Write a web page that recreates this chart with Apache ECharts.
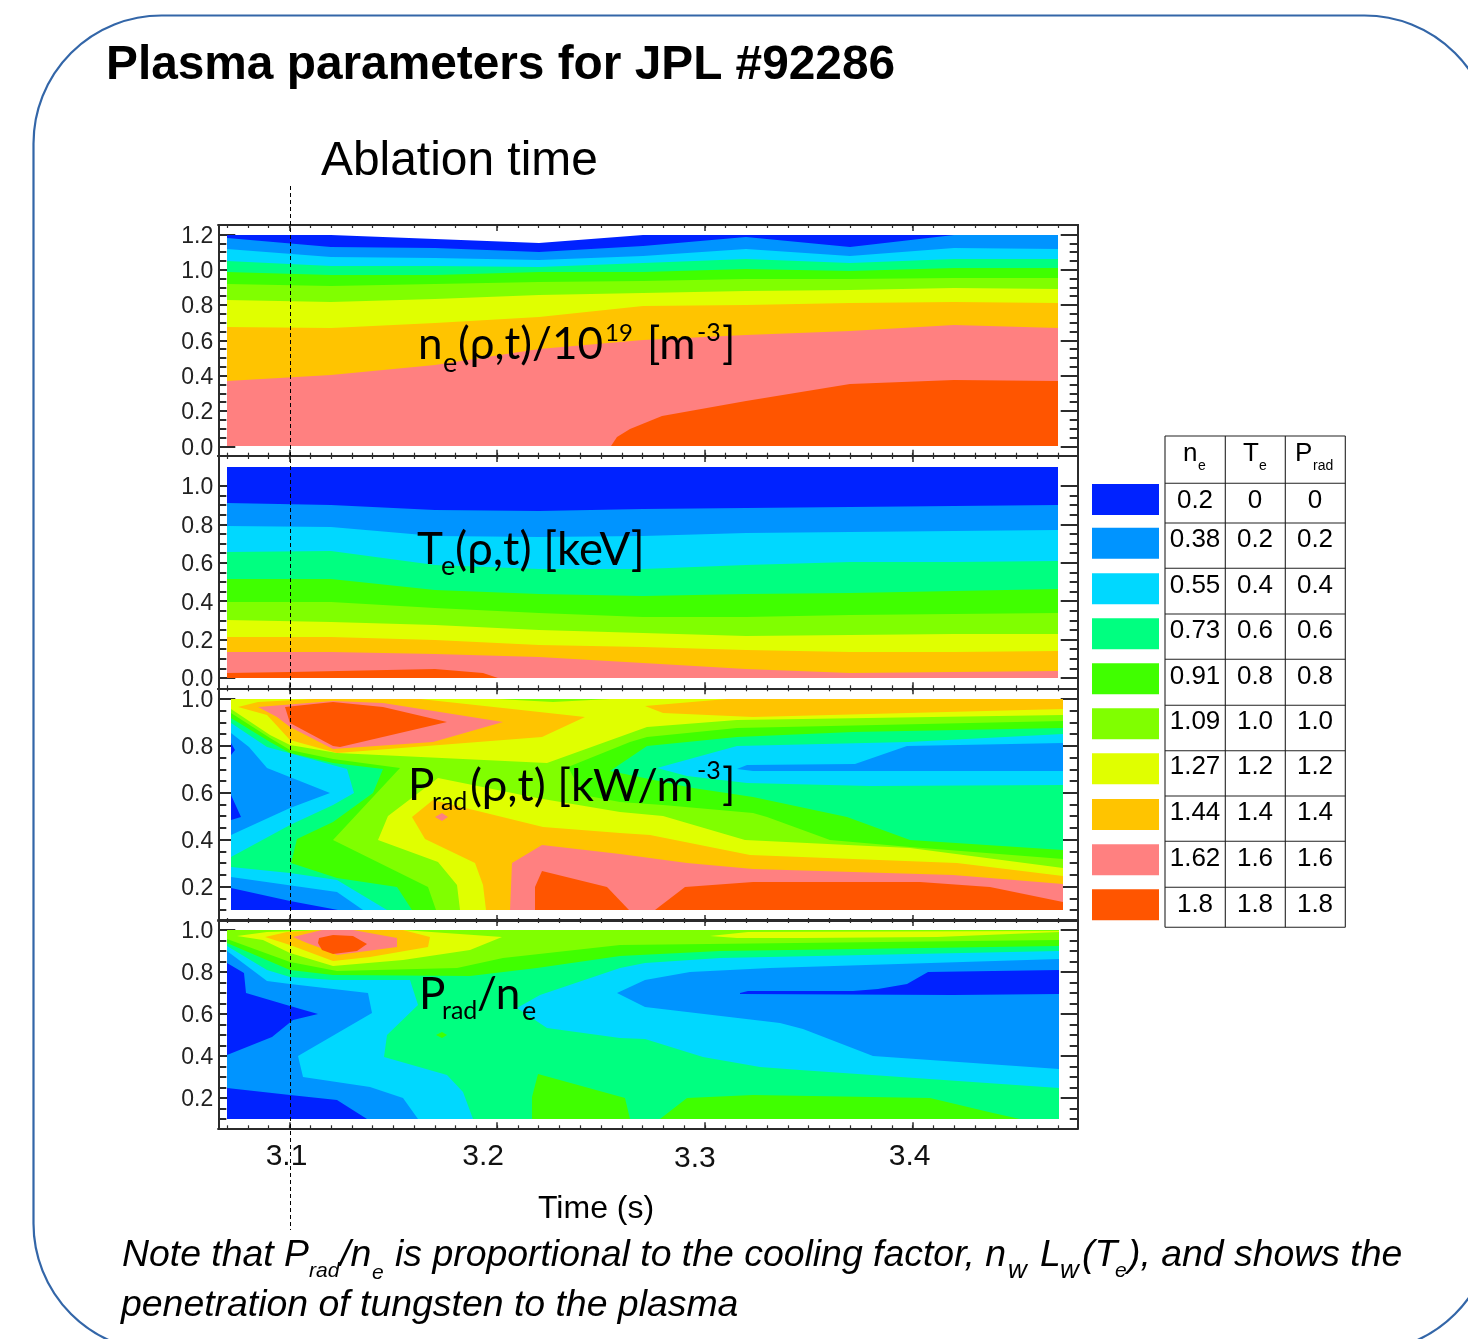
<!DOCTYPE html>
<html><head><meta charset="utf-8">
<script src="https://cdn.jsdelivr.net/npm/echarts@6/dist/echarts.min.js"></script>
<style>html,body{margin:0;padding:0;background:#fff}#c{width:1468px;height:1339px}</style></head>
<body><div id="c"></div>
<script>
// ---------- level colours and table values ----------
const levelColors = ['#0022ff','#0094ff','#00d8ff','#00ff80','#40ff00','#80ff00','#e0ff00','#ffc400','#ff8080','#ff5500'];
const neLevels = ['0.2','0.38','0.55','0.73','0.91','1.09','1.27','1.44','1.62','1.8'];
const teLevels = ['0','0.2','0.4','0.6','0.8','1.0','1.2','1.4','1.6','1.8'];
const pradLevels = ['0','0.2','0.4','0.6','0.8','1.0','1.2','1.4','1.6','1.8'];
// ---------- axes ----------
const xTicks = [3.1,3.2,3.3,3.4];
const xTickLabels = ['3.1','3.2','3.3','3.4'];
const neTicks = [0,0.2,0.4,0.6,0.8,1.0,1.2];
const teTicks = [0,0.2,0.4,0.6,0.8,1.0];
const pradTicks = [0.2,0.4,0.6,0.8,1.0];
const ratioTicks = [0.2,0.4,0.6,0.8,1.0];
// ---------- time nodes of the contour grid ----------
const timeNodes = [3.07,3.12,3.17,3.22,3.27,3.32,3.37,3.42,3.47];
// ---------- ne: upper edge of each level vs time ----------
const neL0 = [1.197,1.197,1.174,1.150,1.197,1.197,1.197,1.197,1.197];
const neL1 = [1.178,1.127,1.121,1.098,1.136,1.188,1.131,1.197,1.197];
const neL2 = [1.116,1.074,1.068,1.055,1.080,1.116,1.080,1.121,1.117];
const neL3 = [1.051,1.023,1.021,1.017,1.040,1.059,1.036,1.061,1.061];
const neL4 = [0.989,0.970,0.973,0.985,0.989,1.002,0.992,1.008,1.008];
const neL5 = [0.919,0.907,0.919,0.932,0.938,0.945,0.945,0.955,0.951];
const neL6 = [0.828,0.818,0.837,0.856,0.871,0.879,0.883,0.894,0.890];
const neL7 = [0.676,0.672,0.701,0.733,0.794,0.799,0.809,0.818,0.809];
const neL8 = [0.367,0.402,0.458,0.549,0.600,0.633,0.653,0.689,0.670];
const neL9 = [[3.2546,0],[3.2575,0.051],[3.2639,0.095],[3.2792,0.169],[3.32,0.259],[3.37,0.350],[3.42,0.375],[3.47,0.371],[3.47,0]];
// ---------- Te: upper edge of each level vs time ----------
const teL0 = [1.10,1.10,1.10,1.10,1.10,1.10,1.10,1.10,1.10];
const teL1 = [0.913,0.901,0.875,0.872,0.878,0.884,0.889,0.896,0.901];
const teL2 = [0.793,0.785,0.740,0.733,0.740,0.753,0.762,0.767,0.771];
const teL3 = [0.658,0.661,0.589,0.566,0.566,0.589,0.606,0.606,0.609];
const teL4 = [0.514,0.514,0.458,0.438,0.427,0.438,0.444,0.453,0.464];
const teL5 = [0.398,0.394,0.363,0.337,0.319,0.319,0.328,0.333,0.337];
const teL6 = [0.302,0.293,0.276,0.250,0.233,0.219,0.224,0.229,0.229];
const teL7 = [0.215,0.212,0.198,0.172,0.160,0.146,0.137,0.137,0.142];
const teL8 = [0.137,0.135,0.125,0.108,0.076,0.047,0.028,0.030,0.038];
const teL9 = [[3.07,0],[3.07,0.024],[3.10,0.033],[3.17,0.045],[3.1933,0.024],[3.2005,0]];
// ---------- Prad contour regions [t, rho] ----------
const pradBase = [[3.0717,1],[3.4723,1],[3.4723,0.1],[3.0717,0.1]];
const pradL1 = [[3.0717,1],[3.4723,1],[3.4723,0.1],[3.1235,0.1],[3.1003,0.139],[3.0717,0.193],[3.0717,0.484],[3.0765,0.498],[3.0717,0.591],[3.0717,0.761],[3.0738,0.783],[3.0717,0.811]];
const pradL2 = [[3.0717,1],[3.4723,1],[3.4723,0.814],[3.3975,0.800],[3.3723,0.721],[3.3201,0.717],[3.3153,0.702],[3.3233,0.693],[3.3795,0.691],[3.4723,0.693],[3.4723,0.1],[3.1356,0.1],[3.1227,0.179],[3.0717,0.243],[3.0717,0.421],[3.1003,0.534],[3.1195,0.601],[3.089,0.704],[3.0805,0.797],[3.0717,0.854]];
const pradL3 = [[3.0717,1],[3.4723,1],[3.4723,0.849],[3.398,0.818],[3.3153,0.800],[3.2768,0.704],[3.2913,0.673],[3.3201,0.643],[3.3795,0.629],[3.4723,0.633],[3.4723,0.1],[3.1468,0.1],[3.1227,0.228],[3.1003,0.257],[3.0717,0.285],[3.0717,0.328],[3.1003,0.463],[3.1211,0.548],[3.1312,0.601],[3.1276,0.700],[3.089,0.794],[3.0717,0.896]];
const pradL4 = [[3.0717,1],[3.4723,1],[3.4723,0.878],[3.3715,0.861],[3.3153,0.837],[3.272,0.800],[3.2543,0.693],[3.2945,0.619],[3.3233,0.584],[3.3683,0.498],[3.3988,0.399],[3.4723,0.356],[3.4723,0.1],[3.1588,0.1],[3.1516,0.200],[3.1227,0.236],[3.1006,0.300],[3.1035,0.403],[3.1211,0.477],[3.1404,0.598],[3.1452,0.700],[3.1211,0.729],[3.1003,0.768],[3.0906,0.818],[3.0717,0.918]];
const pradL5 = [[3.0717,1],[3.4723,1],[3.4723,0.908],[3.3153,0.875],[3.2720,0.839],[3.2640,0.818],[3.2343,0.711],[3.2415,0.591],[3.2592,0.560],[3.280,0.548],[3.3233,0.513],[3.3298,0.498],[3.3603,0.399],[3.3988,0.370],[3.4723,0.318],[3.4723,0.1],[3.1704,0.1],[3.1669,0.200],[3.1211,0.399],[3.1532,0.704],[3.1211,0.744],[3.1003,0.783],[3.0906,0.832],[3.0717,0.939]];
const pradL6a = [[3.0717,1],[3.1998,1],[3.2271,0.989],[3.2543,1],[3.4723,1],[3.4723,0.932],[3.3153,0.910],[3.272,0.882],[3.2238,0.726],[3.1227,0.768],[3.1003,0.804],[3.0906,0.846],[3.0717,0.957]];
const pradL6b = [[3.1428,0.399],[3.1476,0.503],[3.1717,0.662],[3.219,0.577],[3.2592,0.520],[3.28,0.501],[3.3193,0.399],[3.3988,0.363],[3.4723,0.281],[3.4723,0.1],[3.1821,0.1],[3.1805,0.207],[3.1717,0.307]];
const pradL7a = [[3.0754,0.967],[3.085,0.986],[3.1115,1],[3.1629,1],[3.2030,0.960],[3.2423,0.922],[3.2214,0.839],[3.1227,0.768],[3.1003,0.825],[3.089,0.932]];
const pradL7b = [[3.2712,0.970],[3.3105,1],[3.4723,1],[3.4723,0.957],[3.3233,0.922],[3.28,0.939]];
const pradL7c = [[3.1588,0.498],[3.1693,0.570],[3.2222,0.456],[3.2592,0.430],[3.2736,0.420],[3.3217,0.335],[3.4212,0.300],[3.4723,0.247],[3.4723,0.1],[3.1945,0.1],[3.1934,0.207],[3.1893,0.300],[3.1653,0.403]];
const pradL8a = [[3.085,0.967],[3.1211,0.993],[3.1452,0.982],[3.2030,0.903],[3.1693,0.818],[3.1211,0.785],[3.1003,0.882],[3.0939,0.925]];
const pradL8b = [[3.1701,0.498],[3.1733,0.513],[3.1765,0.498],[3.1733,0.481]];
const pradL8c = [[3.2062,0.1],[3.207,0.300],[3.2214,0.378],[3.2592,0.338],[3.2913,0.300],[3.3233,0.275],[3.4196,0.250],[3.4723,0.211],[3.4723,0.1]];
const pradL9a = [[3.0979,0.967],[3.1211,0.989],[3.1452,0.967],[3.1757,0.900],[3.1243,0.797],[3.1211,0.800],[3.1003,0.896]];
const pradL9b = [[3.2182,0.1],[3.2182,0.200],[3.2214,0.267],[3.2527,0.200],[3.2636,0.1]];
const pradL9c = [[3.276,0.1],[3.2905,0.200],[3.3233,0.218],[3.4036,0.218],[3.4373,0.200],[3.4723,0.136],[3.4723,0.1]];
// ---------- Prad/ne contour regions [t, rho] ----------
const ratioBase = [[3.0701,1],[3.4704,1],[3.4704,0.1],[3.0701,0.1]];
const ratioL0a = [[3.0701,0.844],[3.0781,0.794],[3.0791,0.698],[3.1003,0.638],[3.1136,0.602],[3.1019,0.571],[3.0914,0.492],[3.0701,0.405]];
const ratioL0b = [[3.0701,0.246],[3.1003,0.214],[3.1227,0.190],[3.1372,0.1],[3.0701,0.1]];
const ratioL0c = [[3.3169,0.700],[3.3209,0.711],[3.3715,0.710],[3.3835,0.719],[3.3972,0.743],[3.4076,0.798],[3.4704,0.810],[3.4704,0.695],[3.4196,0.689],[3.3169,0.694]];
const ratioL2 = [[3.0701,1],[3.4704,1],[3.4704,0.860],[3.3314,0.821],[3.2929,0.798],[3.2712,0.762],[3.2576,0.698],[3.2712,0.635],[3.3362,0.555],[3.3474,0.529],[3.3811,0.400],[3.4704,0.336],[3.4704,0.1],[3.1621,0.1],[3.1548,0.198],[3.1388,0.254],[3.1067,0.298],[3.1043,0.402],[3.1396,0.603],[3.138,0.698],[3.1003,0.743],[3.089,0.759],[3.0701,0.900]];
const ratioL3 = [[3.0701,1],[3.4704,1],[3.4704,0.900],[3.3073,0.865],[3.2712,0.841],[3.2592,0.821],[3.2206,0.690],[3.2094,0.627],[3.2238,0.532],[3.2592,0.487],[3.2712,0.481],[3.2993,0.397],[3.3266,0.349],[3.3458,0.333],[3.4704,0.249],[3.4704,0.1],[3.1885,0.1],[3.1837,0.230],[3.1757,0.310],[3.1455,0.397],[3.1468,0.500],[3.1621,0.643],[3.1581,0.762],[3.1211,0.762],[3.1003,0.778],[3.089,0.810],[3.0701,0.925]];
const ratioL4a = [[3.0701,1],[3.4704,1],[3.4704,0.925],[3.3073,0.902],[3.2592,0.878],[3.2190,0.817],[3.1869,0.781],[3.1211,0.786],[3.1003,0.810],[3.0701,0.937]];
const ratioL4b = [[3.2166,0.1],[3.2166,0.206],[3.2198,0.313],[3.2616,0.201],[3.264,0.1]];
const ratioL4c = [[3.2784,0.1],[3.2913,0.198],[3.3233,0.213],[3.4084,0.198],[3.4389,0.127],[3.4517,0.1]];
const ratioL4d = [[3.1704,0.500],[3.1733,0.513],[3.1757,0.500],[3.1733,0.487]];
const ratioL5 = [[3.0701,1],[3.4704,1],[3.4704,0.952],[3.2592,0.929],[3.203,0.865],[3.1805,0.817],[3.1227,0.805],[3.1003,0.849],[3.0701,0.957]];
const ratioL6a = [[3.0746,0.973],[3.089,0.989],[3.1195,1],[3.1548,1],[3.2022,0.968],[3.1869,0.905],[3.1548,0.857],[3.1211,0.830],[3.1003,0.889],[3.0874,0.952]];
const ratioL6b = [[3.3025,0.973],[3.3209,0.992],[3.4704,0.997],[3.4704,0.992],[3.4116,0.968],[3.3474,0.960],[3.3153,0.964]];
const ratioL7 = [[3.0882,0.968],[3.0987,0.989],[3.1155,1],[3.1548,1],[3.1677,0.968],[3.1669,0.921],[3.1388,0.873],[3.1211,0.854],[3.1003,0.929]];
const ratioL8 = [[3.1019,0.968],[3.1155,1],[3.1308,1],[3.1516,0.960],[3.1516,0.921],[3.1227,0.881],[3.1139,0.921],[3.1083,0.937]];
const ratioL9 = [[3.1144,0.960],[3.1211,0.976],[3.1308,0.971],[3.1372,0.932],[3.1324,0.900],[3.1211,0.884],[3.1155,0.905],[3.1139,0.937]];

// ---------- polygons built from the arrays above ----------
const edge = (vals) => [[timeNodes[0],0], ...vals.map((v,i)=>[timeNodes[i],v]), [timeNodes[8],0]];
const nePolys = [[0,edge(neL0)],[1,edge(neL1)],[2,edge(neL2)],[3,edge(neL3)],[4,edge(neL4)],[5,edge(neL5)],[6,edge(neL6)],[7,edge(neL7)],[8,edge(neL8)],[9,neL9]];
const tePolys = [[0,edge(teL0)],[1,edge(teL1)],[2,edge(teL2)],[3,edge(teL3)],[4,edge(teL4)],[5,edge(teL5)],[6,edge(teL6)],[7,edge(teL7)],[8,edge(teL8)],[9,teL9]];
const pradPolys = [[0,pradBase],[1,pradL1],[2,pradL2],[3,pradL3],[4,pradL4],[5,pradL5],[6,pradL6a],[6,pradL6b],[7,pradL7a],[7,pradL7b],[7,pradL7c],[8,pradL8a],[8,pradL8b],[8,pradL8c],[9,pradL9a],[9,pradL9b],[9,pradL9c]];
const ratioPolys = [[1,ratioBase],[0,ratioL0a],[0,ratioL0b],[0,ratioL0c],[2,ratioL2],[3,ratioL3],[4,ratioL4a],[4,ratioL4b],[4,ratioL4c],[4,ratioL4d],[5,ratioL5],[6,ratioL6a],[6,ratioL6b],[7,ratioL7],[8,ratioL8],[9,ratioL9]];

const panels = [
 {polys:nePolys, ticks:neTicks, top:225, bottom:455.7, ymin:-0.0535, ymax:1.2535, name:'ne'},
 {polys:tePolys, ticks:teTicks, top:456, bottom:688.3, ymin:-0.0536, ymax:1.1563, name:'Te'},
 {polys:pradPolys, ticks:pradTicks, top:688.3, bottom:921, ymin:0.0533, ymax:1.0456, name:'Prad'},
 {polys:ratioPolys, ticks:ratioTicks, top:920, bottom:1128.3, ymin:0.0557, ymax:1.0476, name:'Prad/ne'}
];
const X0=218.3, X1=1077.7, xMin=3.1-(289.5-X0)/2077, xMax=3.1+(X1-289.5)/2077;
const frame='#2b2b2b';
const xMinor=[]; for(let i=307;i<=347;i++){ xMinor.push(i/100); }
const xShift=[-3,-14,-10,-3];
const rich={}; xShift.forEach((s,i)=>{ rich['r'+i]={fontSize:30,fontFamily:'Liberation Sans',color:'#111',padding:[i===2?2:0,s*-2,0,0]}; });
const yRich={y:{fontSize:23,fontFamily:'Liberation Sans',color:'#222',padding:[4,0,0,0]}};

const grids=[],xAxes=[],yAxes=[],series=[];
panels.forEach((p,g)=>{
  grids.push({left:X0,width:X1-X0,top:p.top,height:p.bottom-p.top,containLabel:false});
  const yMinor=[]; for(let i=0;i<=24;i++){ const v=i*0.05; if(v>p.ymin&&v<p.ymax&&v>=p.ticks[0]-0.15&&v<=p.ticks[p.ticks.length-1]+0.01) yMinor.push(+v.toFixed(2)); }
  const mk=(pos,vals,len,label)=>({type:'value',gridIndex:g,position:pos,min:xMin,max:xMax,
     axisLine:{show:true,onZero:false,lineStyle:{color:frame,width:2}},splitLine:{show:false},
     axisTick:{show:true,inside:true,length:len,customValues:vals,lineStyle:{color:frame,width:len>4?1.5:1.2}},
     axisLabel: label?{show:true,customValues:xTicks,margin:13,formatter:(v,i)=>`{r${xTicks.indexOf(v)}|${xTickLabels[xTicks.indexOf(v)]}}`,rich}:{show:false}});
  xAxes.push(mk('bottom',xTicks,6,g===3),mk('bottom',xMinor,3,false),mk('top',xTicks,6,false),mk('top',xMinor,3,false));
  const my=(pos,vals,len,label)=>({type:'value',gridIndex:g,position:pos,min:p.ymin,max:p.ymax,
     axisLine:{show:true,onZero:false,lineStyle:{color:frame,width:2}},splitLine:{show:false},
     axisTick:{show:true,inside:true,length:len,customValues:vals,lineStyle:{color:frame,width:2}},
     axisLabel: label?{show:true,customValues:p.ticks,margin:5,rich:yRich,formatter:v=>`{y|${v.toFixed(1)}}`}:{show:false}});
  yAxes.push(my('left',p.ticks,17,true),my('left',yMinor,8,false),my('right',p.ticks,17,false),my('right',yMinor,8,false));
  series.push({type:'custom',name:p.name,xAxisIndex:g*4,yAxisIndex:g*4,coordinateSystem:'cartesian2d',clip:true,silent:true,z:1,
    data:p.polys.map((_,i)=>[i]),
    renderItem:(params,api)=>{
      const item=p.polys[api.value(0)];
      return {type:'polygon',shape:{points:item[1].map(q=>api.coord(q).map(Math.round))},style:{fill:levelColors[item[0]]}};
    }});
});

// ---------- text and decoration ----------
const gfx=[];
const txt=(s,x,y,font,o={})=>gfx.push({type:'text',x,y,z:100,silent:true,style:Object.assign({text:s,font,fill:'#000',align:'left',verticalAlign:'middle'},o)});
const labelFont=(n)=>`${n}px Lato`;
gfx.push({type:'rect',z:0,silent:true,shape:{x:33.5,y:15.5,width:1459,height:1336,r:128},style:{fill:'none',stroke:'#3366a8',lineWidth:2.2}});
txt('Plasma parameters for JPL #92286',106,66,'bold 47.8px "Liberation Sans"');
txt('Ablation time',321,162,'47.9px "Liberation Sans"');
gfx.push({type:'line',z:110,silent:true,shape:{x1:290.5,y1:186,x2:290.5,y2:1230},style:{stroke:'#000',lineWidth:1,lineDash:[4,3]}});
// panel labels
txt('n',418,345,labelFont(44)); txt('e',443,363,labelFont(27)); txt('(ρ,t)/10',458,345,labelFont(44)); txt('19',605,333,labelFont(24)); txt('[m',647,345,labelFont(44)); txt('-3',697,333,labelFont(25)); txt(']',722,345,labelFont(44));
txt('T',417,550,labelFont(44)); txt('e',441,566,labelFont(27)); txt('(ρ,t) [keV]',455,550,labelFont(45.5));
txt('P',408,786,labelFont(44)); txt('rad',432,802,labelFont(25)); txt('(ρ,t) [kW/m',470,786,labelFont(45)); txt('-3',697,771,labelFont(25)); txt(']',722,786,labelFont(44));
txt('P',419,995,labelFont(44)); txt('rad',442,1011,labelFont(25)); txt('/n',477,995,labelFont(44)); txt('e',522,1011,labelFont(27));
txt('Time (s)',538,1209,'32px "Liberation Sans"');
// note
const it=(n)=>`italic ${n}px "Liberation Sans"`;
txt('Note that P',122,1256,it(37.4)); txt('rad',309,1271,it(21)); txt('/n',340,1256,it(37.4)); txt('e',372,1273,it(21));
txt('is proportional to the cooling factor, n',395,1256,it(37.4)); txt('w',1008,1271,it(26)); txt('L',1040,1256,it(37.4)); txt('w',1060,1271,it(26)); txt('(T',1082,1256,it(37.4)); txt('e',1115,1271,it(21)); txt('), and shows the',1128,1256,it(37.4));
txt('penetration of tungsten to the plasma',121,1306,it(37.4));
// legend table
const rowY=[436,483.3,523,568.3,614,659.3,705.3,750.7,796,841.3,887.3,927.3];
const colX=[1165,1225.3,1285.3,1345.3];
const swatchY=[484,527.7,573.3,618.3,663.3,708.3,753.3,799,844.3,889.3];
const textY=[501,540,586,631,677,722,767,813,859,905];
levelColors.forEach((c,i)=>gfx.push({type:'rect',z:50,silent:true,shape:{x:1092,y:swatchY[i],width:67,height:31},style:{fill:c}}));
rowY.forEach(y=>gfx.push({type:'line',z:60,silent:true,shape:{x1:colX[0],y1:y,x2:colX[3],y2:y},style:{stroke:'#222',lineWidth:1.1}}));
colX.forEach(x=>gfx.push({type:'line',z:60,silent:true,shape:{x1:x,y1:rowY[0],x2:x,y2:rowY[11]},style:{stroke:'#222',lineWidth:1.1}}));
const tf='26px "Liberation Sans"', cen={align:'center'};
[neLevels,teLevels,pradLevels].forEach((arr,c)=>arr.forEach((s,i)=>txt(s,[1195,1255,1315][c],textY[i],tf,cen)));
txt('n',1183,454,tf); txt('e',1198,466,'14px "Liberation Sans"');
txt('T',1243,454,tf); txt('e',1259,466,'14px "Liberation Sans"');
txt('P',1295,454,tf); txt('rad',1313,466,'14px "Liberation Sans"');

const chart=echarts.init(document.getElementById('c'),null,{renderer:'canvas'});
chart.setOption({animation:false,backgroundColor:'#fff',grid:grids,xAxis:xAxes,yAxis:yAxes,series,graphic:{elements:gfx}});
</script></body></html>
